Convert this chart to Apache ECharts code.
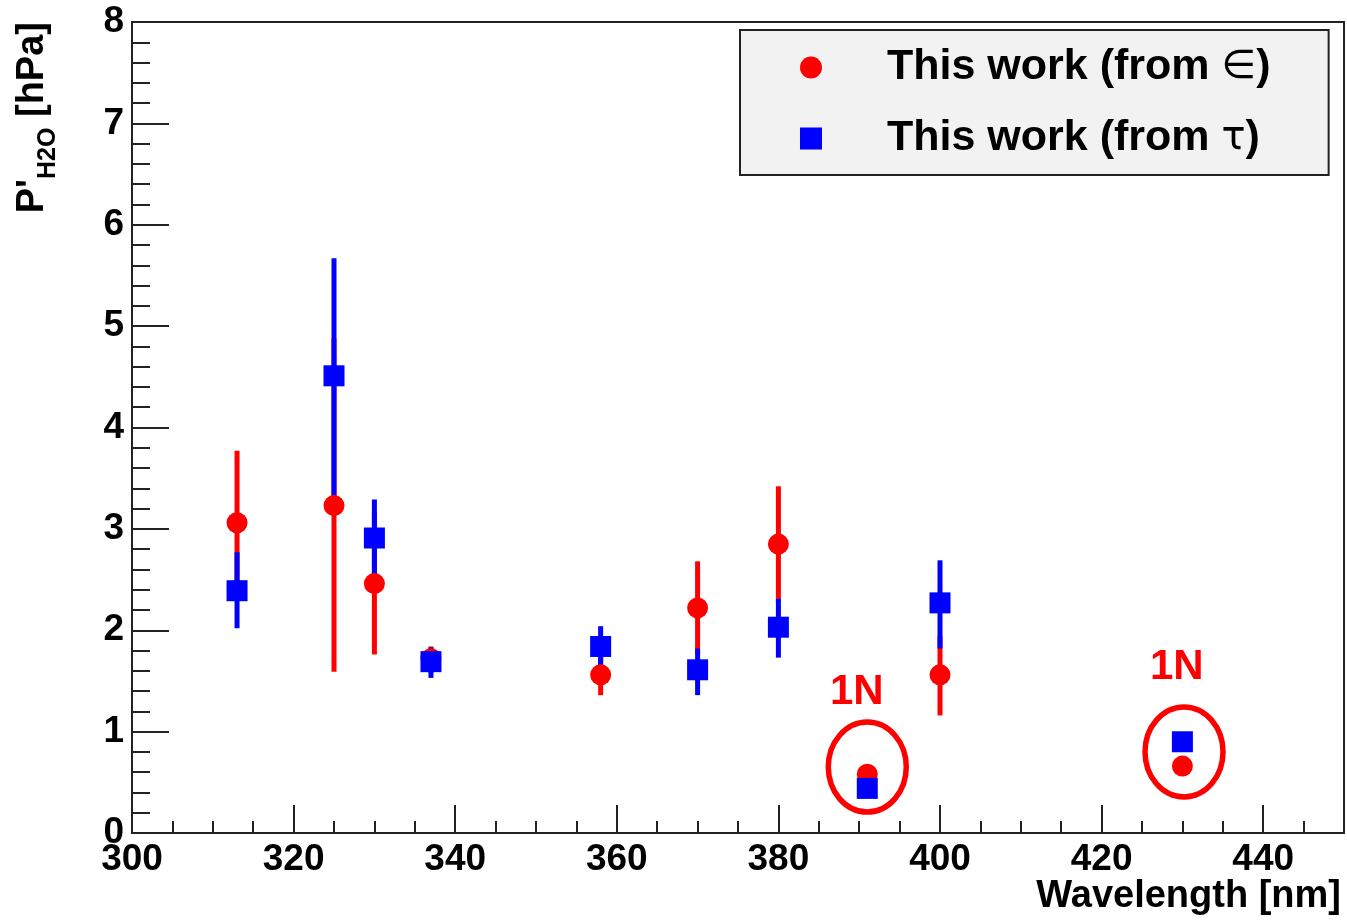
<!DOCTYPE html>
<html>
<head>
<meta charset="utf-8">
<script src="https://cdn.jsdelivr.net/npm/echarts@6/dist/echarts.min.js"></script>
<style>
  html, body { margin: 0; padding: 0; background: #fff; }
  #chart { width: 1347px; height: 920px; }
</style>
</head>
<body>
<div id="chart"></div>
<script>
var wavelengths = [313, 325, 330, 337, 358, 370, 380, 391, 400, 430];

// P'_H2O from epsilon (red circles)
var epsValue = [3.06, 3.23, 2.46, 1.72, 1.56, 2.22, 2.85, 0.58, 1.56, 0.66];
var epsLow   = [2.35, 1.59, 1.76, 1.58, 1.36, 1.76, 2.28, 0.52, 1.16, 0.60];
var epsHigh  = [3.77, 4.88, 3.17, 1.84, 1.76, 2.68, 3.42, 0.64, 1.94, 0.72];

// P'_H2O from tau (blue squares)
var tauValue = [2.39, 4.51, 2.91, 1.69, 1.84, 1.61, 2.03, 0.44, 2.27, 0.90];
var tauLow   = [2.02, 3.33, 2.46, 1.53, 1.64, 1.36, 1.73, 0.40, 1.82, 0.86];
var tauHigh  = [2.77, 5.67, 3.29, 1.83, 2.04, 1.82, 2.31, 0.48, 2.69, 0.94];

var xTickLabels = [300, 320, 340, 360, 380, 400, 420, 440];
var yTickLabels = [0, 1, 2, 3, 4, 5, 6, 7, 8];

var seriesNames = ["This work (from \u2208)", "This work (from \u03c4)"];
var greekSymbols = ["\u2208", "\u03c4"];

// "1N" annotations: ellipse centre and label position
var noteX = [391.0, 430.2];
var noteY = [0.65, 0.80];
var noteLabelX = [389.7, 429.3];
var noteLabelY = [1.39, 1.63];
var noteText = ["1N", "1N"];

var FONT = "Liberation Sans";

function zip3(a, b, c) {
  return a.map(function (v, i) { return [v, b[i], c[i]]; });
}

function errorBars(color) {
  return function (params, api) {
    var top = api.coord([api.value(0), api.value(2)]);
    var bot = api.coord([api.value(0), api.value(1)]);
    return {
      type: "rect",
      shape: { x: top[0] - 2.5, y: top[1], width: 5, height: bot[1] - top[1] },
      style: { fill: color }
    };
  };
}

var chart = echarts.init(document.getElementById("chart"));

var option = {
  animation: false,
  backgroundColor: "#fff",
  textStyle: { fontFamily: FONT },
  grid: {
    left: 132, right: 3, top: 22, bottom: 87,
    show: true, borderColor: "#222", borderWidth: 2, backgroundColor: "transparent"
  },
  legend: {
    data: [
      { name: seriesNames[0], icon: "circle" },
      { name: seriesNames[1], icon: "rect" }
    ],
    orient: "vertical",
    left: 740, top: 30,
    itemWidth: 22, itemHeight: 22, itemGap: 28,
    padding: [16, 58, 15, 60],
    backgroundColor: "#f2f2f2",
    borderColor: "#222", borderWidth: 2,
    selectedMode: false,
    formatter: function (name) {
      var i = seriesNames.indexOf(name);
      return "{b|This work (from }{g|" + greekSymbols[i] + "}{b|)}";
    },
    textStyle: {
      padding: [0, 0, 0, 60],
      rich: {
        b: { fontFamily: FONT, fontSize: 43, fontWeight: "bold", color: "#000", lineHeight: 48 },
        g: { fontFamily: "DejaVu Sans", fontSize: 40, fontWeight: "normal", color: "#000", lineHeight: 48 }
      }
    }
  },
  xAxis: [
    {
      type: "value", min: 300, max: 450, interval: 20, position: "bottom",
      axisLine: { show: true, lineStyle: { color: "#222", width: 2 } },
      axisTick: { show: true, inside: true, length: 28, lineStyle: { color: "#222", width: 2 } },
      axisLabel: {
        color: "#000", fontSize: 37, fontWeight: "bold", fontFamily: FONT, margin: 8,
        formatter: function (v) { return xTickLabels.indexOf(v) >= 0 ? String(v) : ""; }
      },
      splitLine: { show: false }
    },
    {
      type: "value", min: 300, max: 450, interval: 5, position: "bottom",
      axisLine: { show: false },
      axisTick: { show: true, inside: true, length: 12, lineStyle: { color: "#222", width: 2 } },
      axisLabel: { show: false },
      splitLine: { show: false }
    }
  ],
  yAxis: {
    type: "value", min: 0, max: 8, interval: 1,
    axisLine: { show: true, lineStyle: { color: "#222", width: 2 } },
    axisTick: { show: true, inside: true, length: 37, lineStyle: { color: "#222", width: 2 } },
    minorTick: { show: true, splitNumber: 5, length: 18, lineStyle: { color: "#222", width: 2 } },
    axisLabel: {
      color: "#000", fontSize: 37, fontWeight: "bold", fontFamily: FONT, margin: 8,
      formatter: function (v) { return yTickLabels.indexOf(v) >= 0 ? String(v) : ""; }
    },
    splitLine: { show: false }
  },
  graphic: [
    {
      type: "text", right: 6, top: 878,
      style: { text: "Wavelength [nm]", fill: "#000", font: "bold 38px '" + FONT + "'" }
    },
    {
      type: "text", left: 14, top: 22, rotation: Math.PI / 2,
      style: {
        text: "{p|P'}{s|H2O}{p| [hPa]}",
        fill: "#000",
        rich: {
          p: { fontFamily: FONT, fontSize: 38, fontWeight: "bold", verticalAlign: "top", fill: "#000" },
          s: { fontFamily: FONT, fontSize: 25, fontWeight: "bold", verticalAlign: "top", padding: [22, 0, 0, 0], fill: "#000" }
        }
      }
    }
  ],
  series: [
    {
      name: "epsErr", type: "custom", xAxisIndex: 0,
      renderItem: errorBars("#ff0000"),
      data: zip3(wavelengths, epsLow, epsHigh),
      encode: { x: 0, y: [1, 2] }
    },
    {
      name: seriesNames[0], type: "scatter", xAxisIndex: 0,
      symbol: "circle", symbolSize: 21,
      itemStyle: { color: "#ff0000", opacity: 1 },
      data: wavelengths.map(function (w, i) { return [w, epsValue[i]]; })
    },
    {
      name: "tauErr", type: "custom", xAxisIndex: 0,
      renderItem: errorBars("#0000ff"),
      data: zip3(wavelengths, tauLow, tauHigh),
      encode: { x: 0, y: [1, 2] }
    },
    {
      name: seriesNames[1], type: "scatter", xAxisIndex: 0,
      symbol: "rect", symbolSize: 21,
      itemStyle: { color: "#0000ff", opacity: 1 },
      data: wavelengths.map(function (w, i) { return [w, tauValue[i]]; })
    },
    {
      name: "notes", type: "custom", xAxisIndex: 0,
      data: noteX.map(function (x, i) { return [x, noteY[i], noteLabelX[i], noteLabelY[i]]; }),
      encode: { x: 0, y: 1 },
      renderItem: function (params, api) {
        var c = api.coord([api.value(0), api.value(1)]);
        var t = api.coord([api.value(2), api.value(3)]);
        return {
          type: "group",
          children: [
            {
              type: "ellipse",
              shape: { cx: c[0], cy: c[1], rx: 39, ry: 45 },
              style: { fill: "none", stroke: "#ff0000", lineWidth: 5.5 }
            },
            {
              type: "text",
              x: t[0], y: t[1],
              style: {
                text: noteText[params.dataIndex], fill: "#ff0000",
                font: "bold 42px '" + FONT + "'",
                align: "center", verticalAlign: "middle",
                textAlign: "center", textVerticalAlign: "middle"
              }
            }
          ]
        };
      }
    }
  ]
};

chart.setOption(option);
</script>
</body>
</html>
